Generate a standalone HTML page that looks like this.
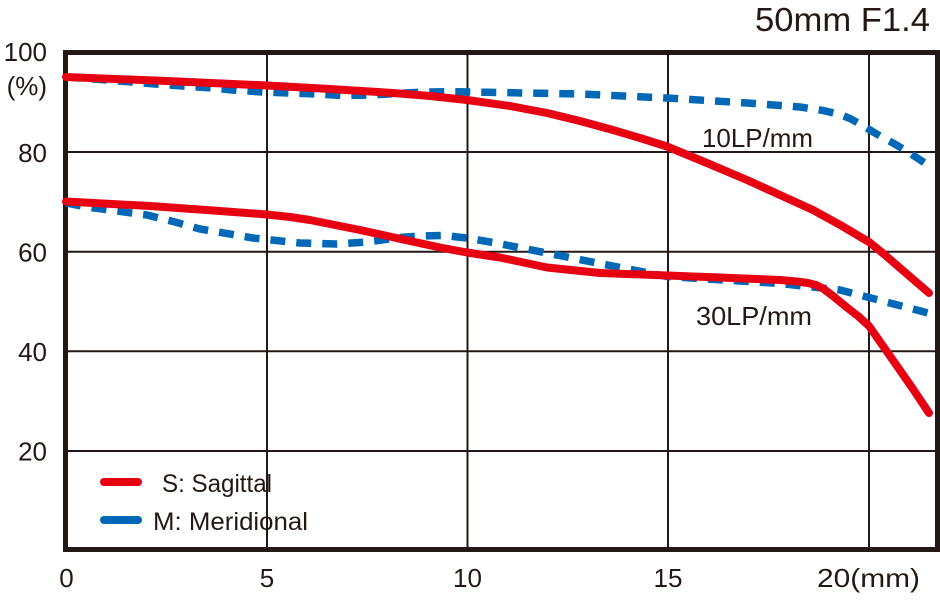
<!DOCTYPE html>
<html>
<head>
<meta charset="utf-8">
<style>
html,body{margin:0;padding:0;background:#fff;}
svg{display:block;}
text{font-family:"Liberation Sans",sans-serif;fill:#231815;}
</style>
</head>
<body>
<svg width="940" height="600" viewBox="0 0 940 600" xmlns="http://www.w3.org/2000/svg">
  <rect x="0" y="0" width="940" height="600" fill="#fff"/>
  <!-- title -->
  <text x="755" y="31" font-size="33" textLength="175" lengthAdjust="spacingAndGlyphs">50mm F1.4</text>

  <!-- grid -->
  <g stroke="#231815" stroke-width="2">
    <line x1="267" y1="53" x2="267" y2="549"/>
    <line x1="467.5" y1="53" x2="467.5" y2="549"/>
    <line x1="668" y1="53" x2="668" y2="549"/>
    <line x1="869" y1="53" x2="869" y2="549"/>
    <line x1="66" y1="152" x2="936" y2="152"/>
    <line x1="66" y1="251.7" x2="936" y2="251.7"/>
    <line x1="66" y1="351.2" x2="936" y2="351.2"/>
    <line x1="66" y1="451" x2="936" y2="451"/>
  </g>
  <!-- frame -->
  <rect x="65.5" y="52.5" width="872" height="497" fill="none" stroke="#231815" stroke-width="5"/>

  <!-- y labels -->
  <g font-size="26" text-anchor="end">
    <text x="47" y="61">100</text>
    <text x="47" y="95">(%)</text>
    <text x="47" y="162">80</text>
    <text x="47" y="261.5">60</text>
    <text x="47" y="361">40</text>
    <text x="47" y="460.5">20</text>
  </g>
  <!-- x labels -->
  <g font-size="26" text-anchor="middle">
    <text x="66.5" y="587">0</text>
    <text x="267" y="587">5</text>
    <text x="467.5" y="587">10</text>
    <text x="668" y="587">15</text>
  </g>
  <text x="817" y="587" font-size="26" textLength="103" lengthAdjust="spacingAndGlyphs">20(mm)</text>

  <!-- series labels -->
  <text x="702" y="147" font-size="26" textLength="111" lengthAdjust="spacingAndGlyphs">10LP/mm</text>
  <text x="696" y="325" font-size="26" textLength="116" lengthAdjust="spacingAndGlyphs">30LP/mm</text>

  <!-- meridional (blue dashed) -->
  <g fill="none" stroke="#0068b7" stroke-width="7.5" stroke-dasharray="15 11" stroke-linejoin="round">
    <polyline points="66,77 120,81 155,84 183,86 213,88 238,90.5 263,92 290,93 317,94 343,95.5 372,95 400,93.3 427,92 453,91.7 487,92.3 580,94 667,98 747,103 800,107 823,110.5 840,114.5 850,118.5 860,124 870,130 880,136 893,143 905,150 918,158.5 932,168"/>
    <polyline points="66,203 87,207 147,215 175,222 200,229 253,238 300,243 337,244 367,242 400,237.5 420,236 443,235.5 467,238 493,242.5 547,253 597,263 667,276.5 780,283.5 840,290 869,297.5 928,313"/>
  </g>

  <!-- sagittal (red solid) -->
  <g fill="none" stroke="#e60012" stroke-width="8" stroke-linecap="round" stroke-linejoin="round">
    <polyline points="66,77 167,81 267,85.5 330,89 393,93 430,96 467,100 510,106 547,113 580,121 613,130 640,138 667,146.5 707,163 747,180 780,195 813,210 842,226 869,242 885,255 900,268 929,293"/>
    <polyline points="66,201.5 150,206 220,211 267,214.5 290,217 310,220 335,225 360,230 385,235.5 410,241 440,247.5 467,252.5 500,257.5 547,267.5 600,273 667,275.5 720,277.5 780,280 797,281.5 808,283 816,285 823,288.5 833,296 847,307.5 858,316 869,326 883,346 897,366 913,389 929,413"/>
  </g>

  <!-- legend -->
  <g stroke-width="8" stroke-linecap="round">
    <line x1="104" y1="482" x2="138" y2="482" stroke="#e60012"/>
    <line x1="104" y1="520" x2="138" y2="520" stroke="#0068b7"/>
  </g>
  <text x="162" y="492" font-size="25" textLength="110" lengthAdjust="spacingAndGlyphs">S: Sagittal</text>
  <text x="153" y="530" font-size="25" textLength="155" lengthAdjust="spacingAndGlyphs">M: Meridional</text>
</svg>
</body>
</html>
